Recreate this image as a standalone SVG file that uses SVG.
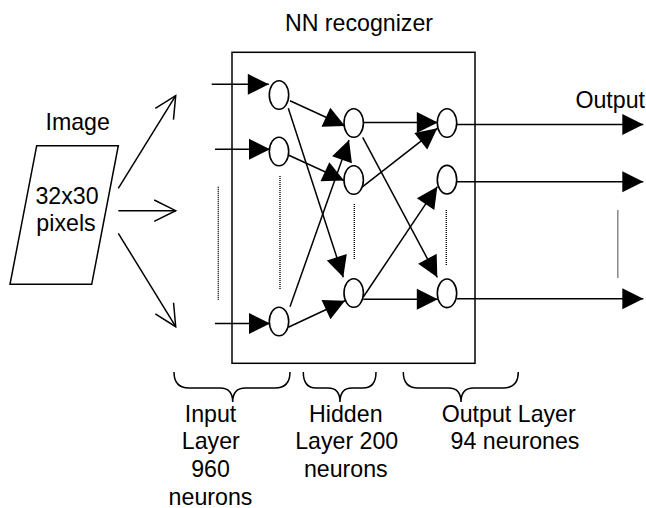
<svg xmlns="http://www.w3.org/2000/svg" width="646" height="508" viewBox="0 0 646 508">
<style>
text{font-family:"Liberation Sans",Arial,sans-serif;font-size:23.2px;fill:#000}
.c{text-anchor:middle}
.ln{stroke:#000;stroke-width:1.5;fill:none}
.fa{marker-end:url(#fa)}
.oa{marker-end:url(#oa)}
.dot{stroke:#000;stroke-width:1.4;stroke-dasharray:1 1;fill:none}
.neu{fill:#fff;stroke:#000;stroke-width:1.6}
.brace{fill:none;stroke:#000;stroke-width:1.5}
</style>
<defs>
<marker id="fa" markerUnits="userSpaceOnUse" markerWidth="22" markerHeight="22" refX="21" refY="10.5" orient="auto" overflow="visible">
<path d="M0,0 L21,10.5 L0,21 Z" fill="#000"/>
</marker>
<marker id="oa" markerUnits="userSpaceOnUse" markerWidth="24" markerHeight="24" refX="21.5" refY="10.7" orient="auto" overflow="visible">
<path d="M0,0 L21.5,10.7 L0,21.4" fill="none" stroke="#000" stroke-width="1.5"/>
</marker>
</defs>
<rect width="646" height="508" fill="#fff"/>

<g id="image">
<polygon points="36.7,145.7 118.3,145.7 91.7,284.3 10,284.3" class="ln"/>
<text x="77.7" y="130" class="c">Image</text>
<text x="67" y="204" class="c">32x30</text>
<text x="66" y="230.7" class="c">pixels</text>
</g>

<g id="recognizer">
<rect x="232" y="52.3" width="243" height="311" class="ln"/>
<text x="359" y="30.5" class="c">NN recognizer</text>
</g>

<g id="connectors">
<line x1="118.3" y1="188.3" x2="175.7" y2="95.7" class="ln oa"/>
<line x1="118.3" y1="210.7" x2="175.7" y2="210.7" class="ln oa"/>
<line x1="118.3" y1="233.3" x2="175.7" y2="326.7" class="ln oa"/>

<line x1="211.7" y1="84.3" x2="268.8" y2="84.3" class="ln fa"/>
<line x1="215" y1="149.3" x2="270" y2="149.3" class="ln fa"/>
<line x1="215" y1="323.5" x2="270" y2="323.5" class="ln fa"/>

<line x1="290" y1="100.7" x2="345" y2="126" class="ln fa"/>
<line x1="288.3" y1="108.3" x2="343.3" y2="277.3" class="ln fa"/>
<line x1="288.3" y1="155" x2="344" y2="180.5" class="ln fa"/>
<line x1="290" y1="306.7" x2="349" y2="140" class="ln fa"/>
<line x1="288.3" y1="327.3" x2="345" y2="300.7" class="ln fa"/>

<line x1="363.3" y1="122.5" x2="437.8" y2="122.5" class="ln fa"/>
<line x1="362.7" y1="137.3" x2="437.3" y2="277.3" class="ln fa"/>
<line x1="362.7" y1="186.7" x2="437.3" y2="128.3" class="ln fa"/>
<line x1="363.3" y1="297" x2="437.3" y2="186.7" class="ln fa"/>
<line x1="363.3" y1="299.3" x2="437.8" y2="299.3" class="ln fa"/>

<line x1="456.7" y1="124.5" x2="643.3" y2="124.5" class="ln fa"/>
<line x1="456.7" y1="181.7" x2="643.3" y2="181.7" class="ln fa"/>
<line x1="456.7" y1="298.7" x2="643.3" y2="298.7" class="ln fa"/>

<line x1="218.3" y1="186.7" x2="218.3" y2="300" class="dot"/>
<line x1="280" y1="176" x2="280" y2="289.3" class="dot"/>
<line x1="354.3" y1="204" x2="354.3" y2="260" class="dot"/>
<line x1="446.3" y1="210" x2="446.3" y2="265" class="dot"/>
<line x1="617.8" y1="210.5" x2="617.8" y2="278.3" class="dot"/>
</g>

<g id="input-layer">
<ellipse cx="279" cy="95" rx="9.7" ry="14.3" class="neu"/>
<ellipse cx="279" cy="151.5" rx="9.7" ry="14.3" class="neu"/>
<ellipse cx="279" cy="321.5" rx="9.7" ry="14.3" class="neu"/>
</g>
<g id="hidden-layer">
<ellipse cx="353.7" cy="123" rx="9.7" ry="14.3" class="neu"/>
<ellipse cx="353.7" cy="180" rx="9.7" ry="14.3" class="neu"/>
<ellipse cx="353.7" cy="293" rx="9.7" ry="14.3" class="neu"/>
</g>
<g id="output-layer">
<ellipse cx="447" cy="123" rx="9.7" ry="14.3" class="neu"/>
<ellipse cx="447" cy="179.7" rx="9.7" ry="14.3" class="neu"/>
<ellipse cx="447" cy="293.3" rx="9.7" ry="14.3" class="neu"/>
</g>

<g id="output-label">
<text x="645" y="108.3" text-anchor="end">Output</text>
</g>

<g id="input-brace">
<path class="brace" d="M174,372 Q174,388 189,388 L220,388 Q232.7,388 232.7,402 Q232.7,388 245.4,388 L275,388 Q290,388 290,372"/>
<text x="210.5" y="421.7" class="c">Input</text>
<text x="210.8" y="449" class="c">Layer</text>
<text x="210.5" y="476.7" class="c">960</text>
<text x="210.5" y="504.5" class="c">neurons</text>
</g>
<g id="hidden-brace">
<path class="brace" d="M303.3,372 Q303.3,388 316,388 L328,388 Q340,388 340,402 Q340,388 352,388 L363,388 Q376,388 376,372"/>
<text x="345.8" y="421.7" class="c">Hidden</text>
<text x="346.7" y="449" class="c">Layer 200</text>
<text x="345.8" y="476.7" class="c">neurons</text>
</g>
<g id="output-brace">
<path class="brace" d="M403.3,372 Q403.3,388 418,388 L448.5,388 Q461,388 461,402 Q461,388 473.5,388 L503,388 Q518.3,388 518.3,372"/>
<text x="441.7" y="421.7">Output Layer</text>
<text x="450.5" y="449">94 neurones</text>
</g>
</svg>
